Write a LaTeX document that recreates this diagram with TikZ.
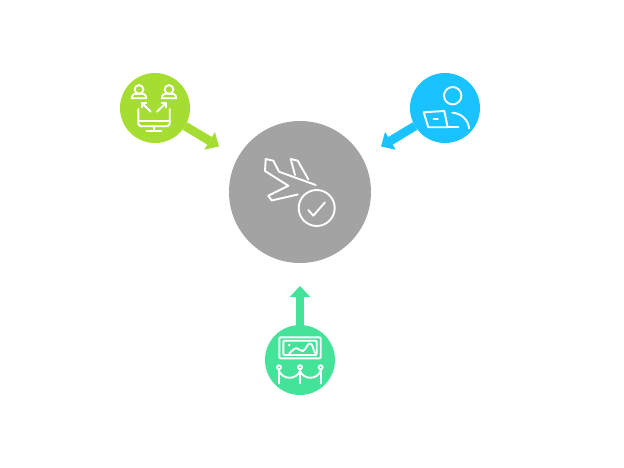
\documentclass[tikz,border=0pt]{standalone}
\usetikzlibrary{arrows.meta}
\definecolor{hubgray}{HTML}{A3A3A3}
\definecolor{limeg}{HTML}{A6DD33}
\definecolor{skyb}{HTML}{19C3FF}
\definecolor{mintg}{HTML}{45E29A}
\tikzset{
  hubdisc/.style={circle,fill=hubgray,minimum size=142pt,inner sep=0pt,outer sep=0pt},
  satdisc/.style={circle,minimum size=70pt,inner sep=0pt,outer sep=0pt},
  feed/.style={line width=8.8pt,-{Triangle[length=11pt,width=20pt]}},
  icon/.style={draw=white,line width=1.9pt,line cap=round,line join=round,fill=none},
}
\begin{document}
\begin{tikzpicture}[x=1pt,y=-1pt]
\useasboundingbox (0,0) rectangle (624,468);
\fill[white] (0,0) rectangle (624,468);
\node[hubdisc] (hub) at (300,192) {};
\node[satdisc,fill=limeg] (lime) at (155,108) {};
\node[satdisc,fill=skyb] (sky) at (445,108) {};
\node[satdisc,fill=mintg] (mint) at (300,360) {};
\coordinate (limetip) at (219,146.5);
\coordinate (skytip) at (381,146.5);
\coordinate (minttip) at (300,286);
\draw[feed,draw=limeg,fill=limeg] (lime) -- (limetip);
\draw[feed,draw=skyb,fill=skyb] (sky) -- (skytip);
\draw[feed,draw=mintg,fill=mintg] (mint) -- (minttip);
% plane icon
\draw[icon] (315.7,185) -- (279,171.7) -- (273.3,160.7) -- (265.7,159) -- (265,171) -- (288.3,185.7) -- (268.3,195.7) -- (271.7,200.5) -- (297.7,194.5);
\draw[icon] (295,175) -- (290.7,159) -- (297.7,160.7) -- (308.3,179.3);
\draw[icon] (316.7,208) circle (18);
\draw[icon] (308.3,210) -- (313.3,215.7) -- (325,202.3);
% lime icon: two people, arrows, monitor
\foreach \px in {139,169}{
  \draw[icon] (\px,89.5) circle (4.4);
  \draw[icon] (\px-7.3,98.3) .. controls (\px-7.3,93.5) and (\px-3,93.5) .. (\px,93.5) .. controls (\px+3,93.5) and (\px+7.3,93.5) .. (\px+7.3,98.3) -- cycle;
}
\draw[icon] (150.7,111.7) -- (142,103);
\draw[icon] (142,107.5) -- (142,103) -- (146.5,103);
\draw[icon] (157,111.7) -- (166,103);
\draw[icon] (161.5,103) -- (166,103) -- (166,107.5);
\draw[icon] (138.3,109) -- (138.3,124) -- (140.5,126.3) -- (167.5,126.3) -- (169.7,124) -- (169.7,109);
\draw[icon] (138.3,121) -- (169.7,121);
\draw[icon] (154,126.3) -- (154,131);
\draw[icon] (146.5,131) -- (161.5,131);
% sky icon: person at laptop
\draw[icon] (452.7,95.7) circle (8.7);
\draw[icon] (423.7,112.3) -- (444.3,111) -- (447.7,127.3) -- (428.3,127.3) -- cycle;
\draw[icon] (447.7,127.3) -- (458.3,127.3);
\draw[icon] (433.5,119) -- (438,119);
\draw[icon] (452.3,112.7) .. controls (461,113) and (468.5,120) .. (469,128.3);
% mint icon: framed picture, rope barrier
\draw[icon,rounded corners=1pt] (279.3,337.3) rectangle (320.7,358.3);
\draw[icon,rounded corners=1pt] (283.3,340.7) rectangle (316.7,355);
\fill[white] (289.3,345) circle (1.4);
\draw[icon] (289.3,353.5) .. controls (292,351) and (294,348) .. (297,348.3) .. controls (300,348.6) and (300,352) .. (303,351) .. controls (306,350) and (307,343.5) .. (310,343.5) .. controls (313,343.5) and (313,350) .. (315,353);
\foreach \qx in {279,300,320.7}{
  \draw[icon] (\qx,367.3) circle (2);
  \draw[icon] (\qx,369.5) -- (\qx,383.5);
}
\draw[icon] (279,371) .. controls (283,380) and (296,380) .. (300,371);
\draw[icon] (300,371) .. controls (304,380) and (316.7,380) .. (320.7,371);
\end{tikzpicture}
\end{document}
